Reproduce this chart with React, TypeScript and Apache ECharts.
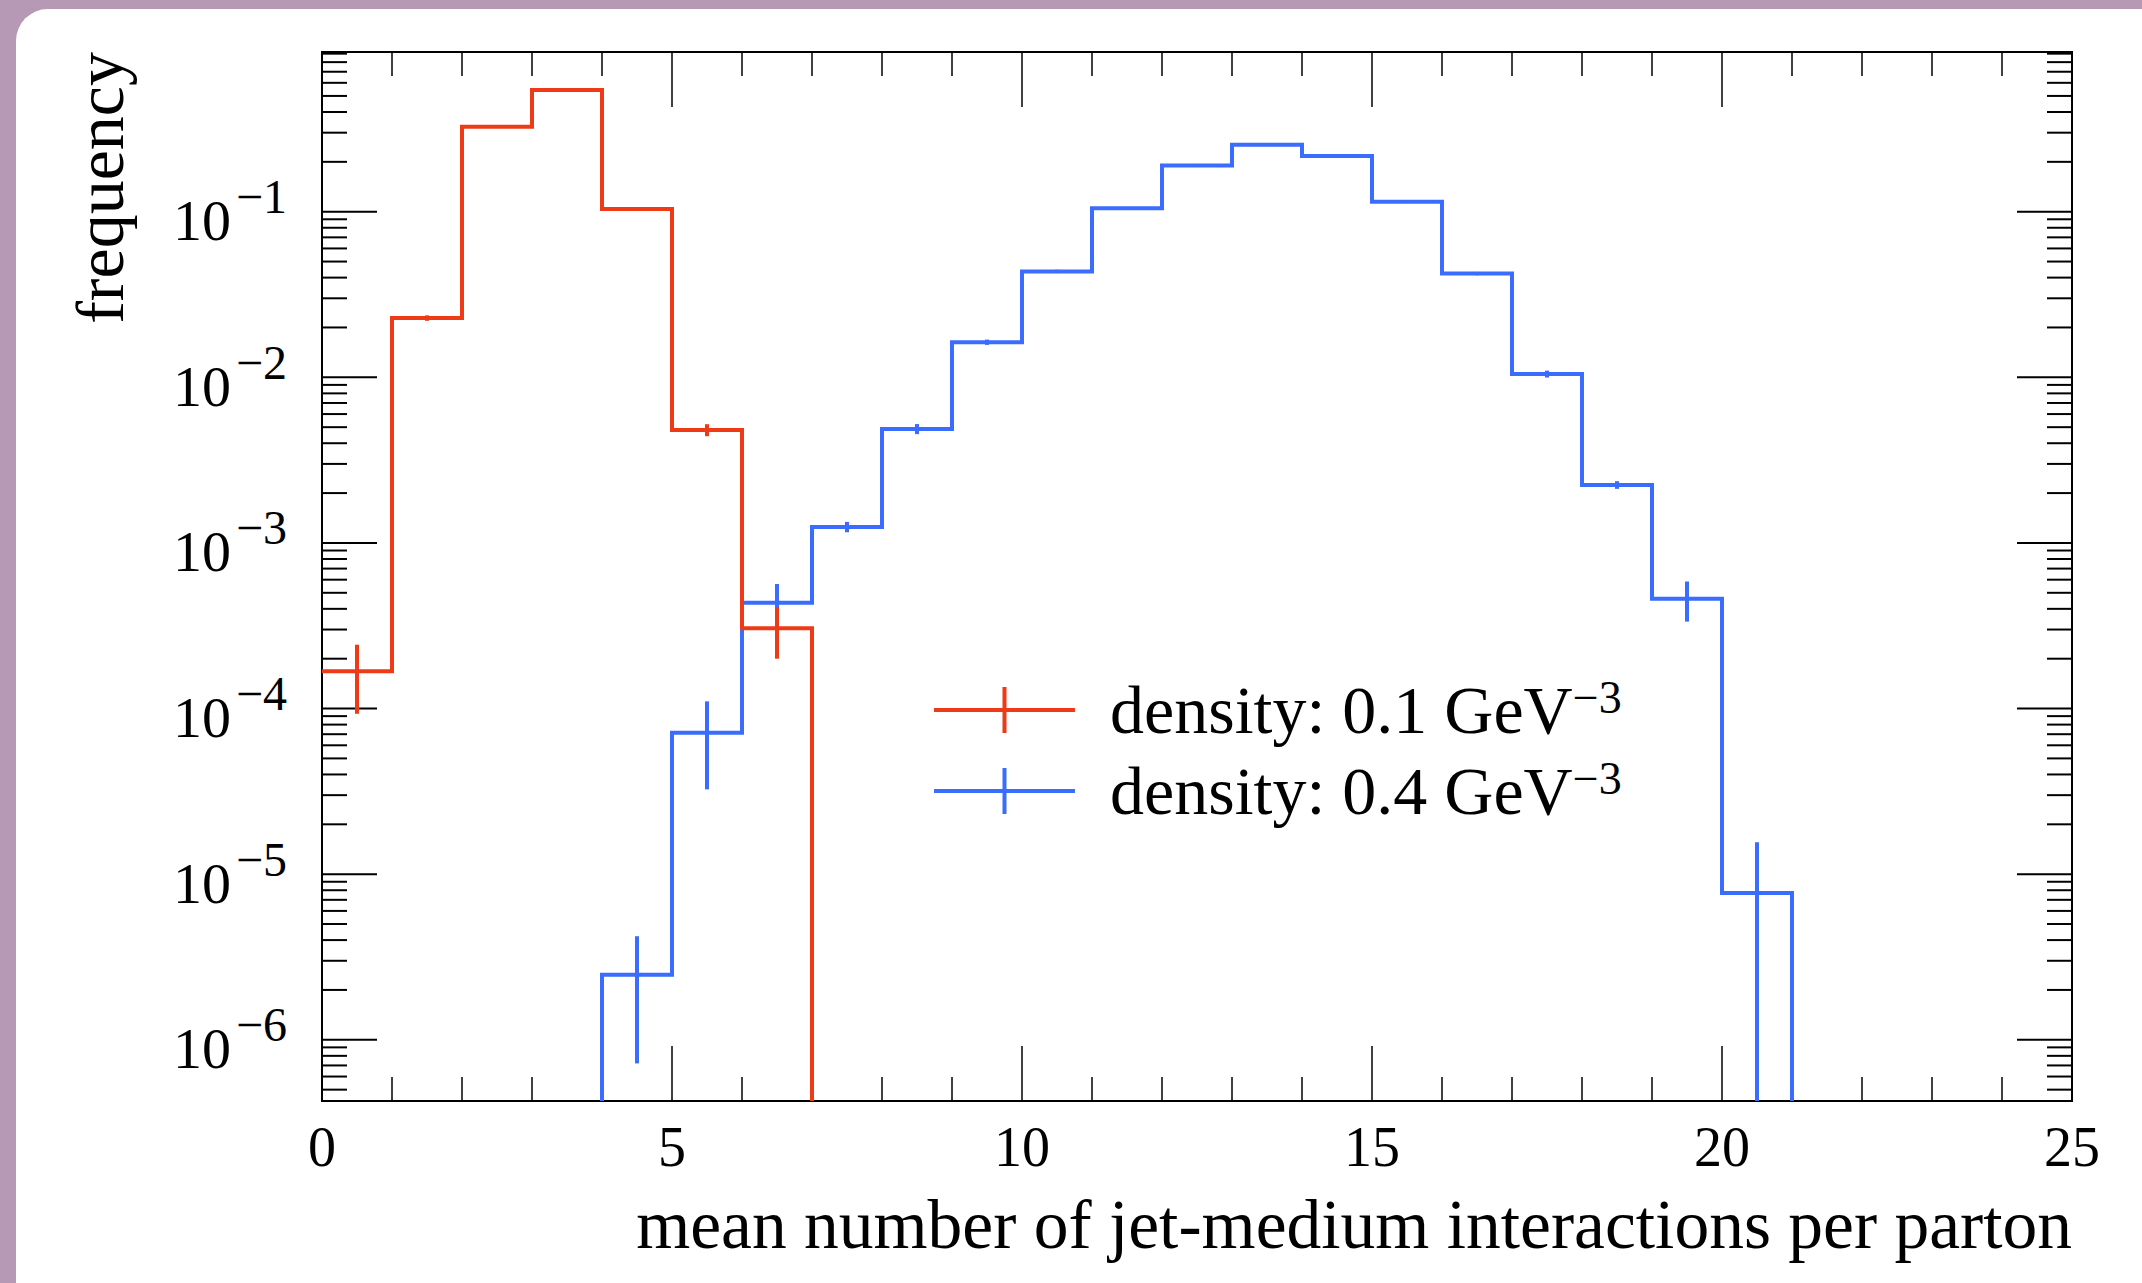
import React, { useEffect, useRef } from "react";
import * as echarts from "echarts";

// ---------------- data ----------------
const BIN_EDGES = [0, 1, 2, 3, 4, 5, 6, 7, 8, 9, 10, 11, 12, 13, 14, 15, 16, 17, 18, 19, 20, 21, 22, 23, 24, 25];

const RED_NAME = "density: 0.1 GeV^-3";
const RED_VALUES = [1.68e-4, 0.0228, 0.326, 0.543, 0.1038, 0.00481, 3.05e-4, 0, 0, 0, 0, 0, 0, 0, 0, 0, 0, 0, 0, 0, 0, 0, 0, 0, 0];
const RED_ERRORS = [7.5e-5, 8.6e-4, 3.3e-3, 4.2e-3, 1.9e-3, 4.0e-4, 1.05e-4, 0, 0, 0, 0, 0, 0, 0, 0, 0, 0, 0, 0, 0, 0, 0, 0, 0, 0];

const BLUE_NAME = "density: 0.4 GeV^-3";
const BLUE_VALUES = [0, 0, 0, 0, 2.47e-6, 7.15e-5, 4.35e-4, 1.25e-3, 4.88e-3, 0.0163, 0.0436, 0.105, 0.19, 0.254, 0.217, 0.115, 0.0423, 0.01047, 0.00224, 4.6e-4, 7.69e-6, 0, 0, 0, 0];
const BLUE_ERRORS = [0, 0, 0, 0, 1.75e-6, 3.9e-5, 1.3e-4, 9e-5, 3.4e-4, 6e-4, 1.0e-3, 1.6e-3, 2.1e-3, 2.4e-3, 2.2e-3, 1.6e-3, 9.7e-4, 5e-4, 1.2e-4, 1.25e-4, 7.9e-6, 0, 0, 0, 0];

const X_TICKS = [0, 5, 10, 15, 20, 25];
const Y_DECADES = [-7, -6, -5, -4, -3, -2, -1];

const X_MIN = 0;
const X_MAX = 25;
const Y_MIN = 4.27e-7;
const Y_MAX = 0.921;

const X_TITLE = "mean number of jet-medium interactions per parton";
const Y_TITLE = "frequency";

// ---------------- style ----------------
const FONT = '"Liberation Serif", "Times New Roman", serif';
const RED = "#ef3a17";
const BLUE = "#3a6cff";
const CROSS_ICON = "path://M0 21H141V25H0Z M68.5 0H72.5V46H68.5Z";

function histRender(values: number[], errors: number[], color: string) {
  return (params: any, api: any) => {
    const lvl = (v: number) => (v > 0 ? v : Y_MIN);
    const first = values.findIndex((v) => v > 0);
    let last = first;
    values.forEach((v, i) => {
      if (v > 0) last = i;
    });
    const pts: number[][] = [];
    if (BIN_EDGES[first] > X_MIN) pts.push(api.coord([BIN_EDGES[first], Y_MIN]));
    for (let i = first; i <= last; i++) {
      pts.push(api.coord([BIN_EDGES[i], lvl(values[i])]));
      pts.push(api.coord([BIN_EDGES[i + 1], lvl(values[i])]));
    }
    if (BIN_EDGES[last + 1] < X_MAX) pts.push(api.coord([BIN_EDGES[last + 1], Y_MIN]));
    const children: any[] = [
      {
        type: "polyline",
        shape: { points: pts },
        style: { stroke: color, lineWidth: 4, fill: "none", lineJoin: "miter" },
      },
    ];
    for (let i = 0; i < values.length; i++) {
      if (!(values[i] > 0) || !(errors[i] > 0)) continue;
      const c = (BIN_EDGES[i] + BIN_EDGES[i + 1]) / 2;
      const lo = Math.max(values[i] - errors[i], Y_MIN);
      const hi = Math.min(values[i] + errors[i], Y_MAX);
      const p1 = api.coord([c, lo]);
      const p2 = api.coord([c, hi]);
      children.push({
        type: "line",
        shape: { x1: p1[0], y1: p1[1], x2: p2[0], y2: p2[1] },
        style: { stroke: color, lineWidth: 4 },
      });
    }
    return { type: "group", children };
  };
}

function yTickRender(params: any, api: any) {
  const children: any[] = [];
  Y_DECADES.forEach((d) => {
    for (let k = 1; k <= 9; k++) {
      const v = k * Math.pow(10, d);
      if (v < Y_MIN || v > Y_MAX) continue;
      const len = k === 1 ? 55 : 25;
      const pl = api.coord([X_MIN, v]);
      const pr = api.coord([X_MAX, v]);
      children.push({
        type: "line",
        shape: { x1: pl[0], y1: pl[1], x2: pl[0] + len, y2: pl[1] },
        style: { stroke: "#000", lineWidth: 2 },
      });
      children.push({
        type: "line",
        shape: { x1: pr[0] - len, y1: pr[1], x2: pr[0], y2: pr[1] },
        style: { stroke: "#000", lineWidth: 2 },
      });
    }
  });
  return { type: "group", children };
}

function legendLabel(name: string) {
  const [base, sup] = name.split("^");
  return `{g|}{t|${base}}{s|${sup.replace("-", "\u2212")}}`;
}

export default function App() {
  const ref = useRef<HTMLDivElement>(null);
  useEffect(() => {
    document.body.style.margin = "0";
    const chart = echarts.init(ref.current as HTMLDivElement, null, { renderer: "svg" });
    const xAxisCommon = {
      type: "value",
      min: X_MIN,
      max: X_MAX,
      interval: X_TICKS[1] - X_TICKS[0],
      axisLine: { show: false },
      splitLine: { show: false },
      axisTick: { show: true, inside: true, length: 55, lineStyle: { color: "#000", width: 1.5 } },
      minorTick: { show: true, splitNumber: 5, length: 24, lineStyle: { color: "#000", width: 1.5 } },
    };
    chart.setOption({
      animation: false,
      backgroundColor: "transparent",
      grid: {
        left: 322,
        top: 52,
        width: 1750,
        height: 1049,
        show: true,
        borderColor: "#000",
        borderWidth: 2,
        backgroundColor: "transparent",
      },
      xAxis: [
        {
          ...xAxisCommon,
          position: "bottom",
          axisLabel: { margin: 18, fontFamily: FONT, fontSize: 56, color: "#000" },
        },
        {
          ...xAxisCommon,
          position: "top",
          axisLabel: { show: false },
        },
      ],
      yAxis: {
        type: "log",
        logBase: 10,
        min: Y_MIN,
        max: Y_MAX,
        axisLine: { show: false },
        axisTick: { show: false },
        minorTick: { show: false },
        splitLine: { show: false },
        axisLabel: {
          margin: 35,
          showMinLabel: false,
          showMaxLabel: false,
          formatter: (v: number) => {
            const e = Math.round(Math.log10(v));
            return `{b|10}{s|\u2212${-e}}`;
          },
          rich: {
            b: { fontFamily: FONT, fontSize: 58, lineHeight: 58, color: "#000", padding: [18, 0, 0, 0] },
            s: { fontFamily: FONT, fontSize: 48, lineHeight: 48, color: "#000", padding: [0, 0, 30, 5] },
          },
        },
      },
      legend: {
        orient: "vertical",
        left: 934,
        top: 674,
        padding: 0,
        itemWidth: 141,
        itemHeight: 46,
        itemGap: 9,
        selectedMode: false,
        data: [
          { name: RED_NAME, icon: CROSS_ICON },
          { name: BLUE_NAME, icon: CROSS_ICON },
        ],
        formatter: legendLabel,
        textStyle: {
          color: "#000",
          fontFamily: FONT,
          fontSize: 68,
          rich: {
            g: { width: 30 },
            t: { fontFamily: FONT, fontSize: 68, lineHeight: 68, color: "#000" },
            s: { fontFamily: FONT, fontSize: 46, lineHeight: 46, color: "#000", padding: [0, 0, 26, 0] },
          },
        },
      },
      graphic: [
        {
          type: "text",
          x: 2072,
          y: 1224,
          style: { text: X_TITLE, fontFamily: FONT, fontSize: 69.5, fill: "#000", textAlign: "right", textVerticalAlign: "middle" },
        },
        {
          type: "text",
          x: 100,
          y: 52,
          rotation: Math.PI / 2,
          style: { text: Y_TITLE, fontFamily: FONT, fontSize: 68, fill: "#000", textAlign: "right", textVerticalAlign: "middle" },
        },
      ],
      series: [
        {
          type: "custom",
          name: "ticks",
          silent: true,
          xAxisIndex: 0,
          yAxisIndex: 0,
          data: [[12.5, 0.01]],
          renderItem: yTickRender,
          z: 1,
        },
        {
          type: "custom",
          name: RED_NAME,
          silent: true,
          xAxisIndex: 0,
          yAxisIndex: 0,
          itemStyle: { color: RED },
          data: [[12.5, 0.01]],
          renderItem: histRender(RED_VALUES, RED_ERRORS, RED),
          z: 3,
        },
        {
          type: "custom",
          name: BLUE_NAME,
          silent: true,
          xAxisIndex: 0,
          yAxisIndex: 0,
          itemStyle: { color: BLUE },
          data: [[12.5, 0.01]],
          renderItem: histRender(BLUE_VALUES, BLUE_ERRORS, BLUE),
          z: 2,
        },
      ],
    });
    return () => chart.dispose();
  }, []);

  return (
    <div
      style={{
        position: "fixed",
        left: 0,
        top: 0,
        width: 2142,
        height: 1283,
        background: "#b69ab5",
        overflow: "hidden",
      }}
    >
      <div
        style={{
          position: "absolute",
          left: 16,
          top: 9,
          width: 2160,
          height: 1300,
          background: "#ffffff",
          borderTopLeftRadius: 32,
        }}
      />
      <div ref={ref} style={{ position: "absolute", left: 0, top: 0, width: 2142, height: 1283 }} />
    </div>
  );
}
